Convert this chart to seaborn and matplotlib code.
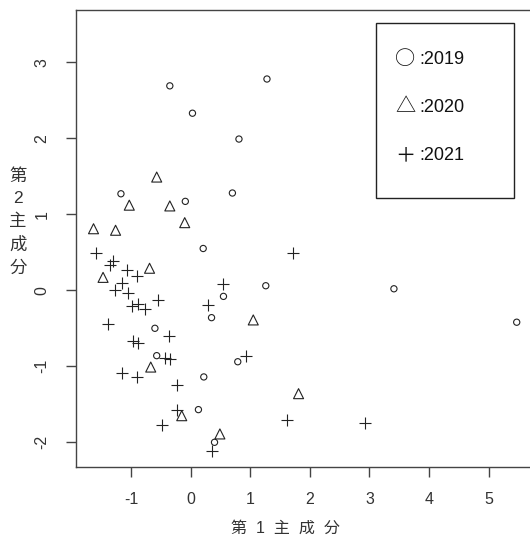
import numpy as np
import pandas as pd
import seaborn as sns
import matplotlib.pyplot as plt
from matplotlib.patches import Rectangle

# principal component scores
pc1_2019 = [-0.35, 1.28, 0.03, 0.81, -1.17, -0.09, 0.70, 0.21, 1.26, 0.55,
            0.35, -0.60, -0.57, 0.79, 0.22, 0.13, 0.40, 3.41, 5.47]
pc2_2019 = [2.69, 2.78, 2.33, 1.99, 1.27, 1.17, 1.28, 0.55, 0.06, -0.08,
            -0.36, -0.50, -0.86, -0.94, -1.14, -1.57, -2.00, 0.02, -0.42]

pc1_2020 = [-0.57, -1.03, -0.35, -0.10, -1.63, -1.26, -0.69, -1.47, 1.05,
            -0.67, 1.81, -0.15, 0.49]
pc2_2020 = [1.49, 1.12, 1.11, 0.89, 0.81, 0.79, 0.29, 0.17, -0.39,
            -1.01, -1.36, -1.65, -1.89]

pc1_2021 = [-1.59, -1.31, -1.35, -1.07, -0.90, -1.15, -1.27, -1.05, -0.55,
            -0.98, -0.88, -0.77, -1.38, -0.96, -0.89, -0.37, -0.43, -0.35,
            -1.16, -0.90, -0.23, -0.23, -0.48, 0.36, 0.55, 0.29, 0.92, 1.71,
            1.62, 2.93]
pc2_2021 = [0.49, 0.39, 0.33, 0.27, 0.19, 0.10, 0.00, -0.03, -0.13,
            -0.21, -0.18, -0.25, -0.45, -0.67, -0.69, -0.60, -0.89, -0.91,
            -1.09, -1.14, -1.25, -1.58, -1.77, -2.11, 0.08, -0.20, -0.86, 0.49,
            -1.71, -1.75]

years = ["2019", "2020", "2021"]
legend_symbols = ["○", "△", "＋"]

df = pd.DataFrame({
    "pc1": pc1_2019 + pc1_2020 + pc1_2021,
    "pc2": pc2_2019 + pc2_2020 + pc2_2021,
    "year": ["2019"] * len(pc1_2019) + ["2020"] * len(pc1_2020) + ["2021"] * len(pc1_2021),
})

sns.set_style("ticks")
plt.rcParams["font.family"] = ["Liberation Sans", "Noto Sans CJK JP", "DejaVu Sans"]
plt.rcParams["axes.unicode_minus"] = False

fig = plt.figure(figsize=(5.30, 5.38), dpi=100)
W, H = 530, 538
ax = fig.add_axes([76 / W, (H - 467) / H, (530 - 76) / W, (467 - 10) / H])

edge = "#222222"
styles = {
    "2019": dict(marker="o", s=20, facecolors="none", edgecolor=edge, linewidth=0.8),
    "2020": dict(marker="^", s=52, facecolors="none", edgecolor=edge, linewidth=0.8),
    "2021": dict(marker="+", s=75, color=edge, linewidth=0.8),
}
for yr in years:
    sub = df[df["year"] == yr]
    sns.scatterplot(data=sub, x="pc1", y="pc2", ax=ax, legend=False, **styles[yr])

ax.set_xlim(-1.924, 5.693)
ax.set_ylim(-2.325, 3.688)
ax.set_xticks(range(-1, 6))
ax.set_yticks(range(-2, 4))

spine_col = "#444444"
for side in ["left", "top", "bottom"]:
    ax.spines[side].set_color(spine_col)
    ax.spines[side].set_linewidth(1.0)
ax.spines["right"].set_visible(False)

ax.tick_params(axis="both", direction="out", length=7, width=1.0,
               color=spine_col, labelcolor="#333333", labelsize=11.5)
ax.tick_params(axis="x", pad=11)
ax.tick_params(axis="y", pad=12, labelrotation=90)
for lab in ax.get_yticklabels():
    lab.set_va("center")

ax.set_xlabel("第  1  主  成  分", fontsize=11.5, color="#333333", va="center")
ax.xaxis.set_label_coords((285 - 76) / 454, (467 - 528) / 457)
ax.set_ylabel("第\n2\n主\n成\n分", fontsize=12.5, color="#333333",
              rotation=0, va="center", ha="center", linespacing=1.6)
ax.yaxis.set_label_coords((18 - 76) / 454, (467 - 222) / 457)

# legend box with glyph symbols
fig.patches.append(Rectangle((376 / W, (H - 198) / H), (514 - 376) / W, (198 - 23) / H,
                             transform=fig.transFigure, facecolor="white",
                             edgecolor="#222222", linewidth=1.0))
for sym, yr, ypix in zip(legend_symbols, years, [59, 107, 156]):
    fig.text(405.5 / W, (H - ypix) / H, sym, fontsize=14.5, color="#111111",
             ha="center", va="center", family=["Noto Sans CJK JP"])
    fig.text(419 / W, (H - ypix) / H, ":" + yr, fontsize=13, color="#111111",
             ha="left", va="center")

fig.savefig("out.png", dpi=100)
